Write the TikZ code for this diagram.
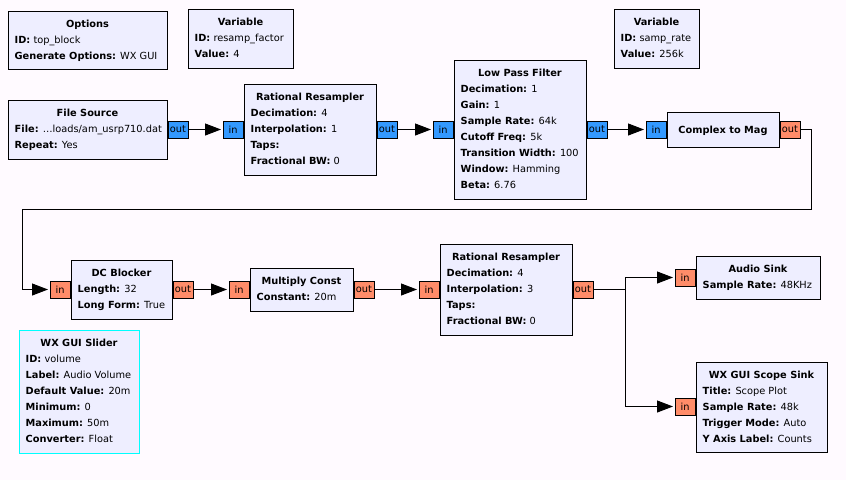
\documentclass[tikz,border=0pt]{standalone}
\usepackage{fontspec}
\setmainfont{DejaVu Sans}
\usetikzlibrary{arrows.meta,fit}
\definecolor{bg}{RGB}{255,250,255}
\definecolor{blockfill}{RGB}{238,238,255}
\definecolor{cplx}{RGB}{51,153,255}
\definecolor{flt}{RGB}{255,140,105}
\definecolor{slid}{RGB}{0,255,255}
\tikzset{
 block/.style={draw=black, fill=blockfill, line width=1pt, inner sep=0pt},
 sliderblock/.style={block, draw=slid},
 titletext/.style={font=\fontsize{9.8}{12}\selectfont\bfseries, inner sep=0pt, anchor=mid},
 bodytext/.style={font=\fontsize{9.8}{12}\selectfont, inner sep=0pt, anchor=mid west},
 port/.style={draw=black, line width=1pt, minimum width=20pt, minimum height=17pt, inner sep=0pt, font=\fontsize{9.8}{12}\selectfont},
 cport/.style={port, fill=cplx},
 fport/.style={port, fill=flt},
 conn/.style={draw, line width=1pt, -{Triangle[length=16pt,width=12pt]}, shorten >=1.5pt},
}
% #1 style, #2 name, #3 nw corner, #4 se corner, #5 title, #6 lines
\newcommand\grcblk[6]{%
  \node[#1, fit={#3 #4}] (#2) {};
  \path (#2.north) ++(0,14.2) node[titletext] (#2-t) {#5};
  \foreach \txt [count=\i] in {#6} {
    \path (#2.north west) ++(7,{14.2+16*\i}) node[bodytext] (#2-\i) {\txt};
  }
}
% #1 block, #2 y, #3 style
\newcommand\inport[3]{\node[#3, anchor=east] (#1-in) at (#1.west |- 0,#2) {in};}
\newcommand\outport[3]{\node[#3, anchor=west] (#1-out) at (#1.east |- 0,#2) {out};}
\begin{document}
\begin{tikzpicture}[x=1pt,y=-1pt]
\useasboundingbox (0,0) rectangle (846,480);
\fill[bg] (0,0) rectangle (846,480);

\grcblk{block}{opt}{(8,11)}{(167,69)}{Options}{\textbf{ID:} top\_block, \textbf{Generate Options:} WX GUI}
\grcblk{block}{var1}{(188,9)}{(293,68)}{Variable}{\textbf{ID:} resamp\_factor, \textbf{Value:} 4}
\grcblk{block}{var2}{(614,9)}{(699,68)}{Variable}{\textbf{ID:} samp\_rate, \textbf{Value:} 256k}
\grcblk{block}{fs}{(8,100)}{(167,159)}{File Source}{\textbf{File:} \ldots loads/am\_usrp710.dat, \textbf{Repeat:} Yes}
\grcblk{block}{rr1}{(244,84)}{(376,175)}{Rational Resampler}{\textbf{Decimation:} 4, \textbf{Interpolation:} 1, \textbf{Taps:}, \textbf{Fractional BW:} 0}
\grcblk{block}{lpf}{(454,60)}{(586,199)}{Low Pass Filter}{\textbf{Decimation:} 1, \textbf{Gain:} 1, \textbf{Sample Rate:} 64k, \textbf{Cutoff Freq:} 5k, \textbf{Transition Width:} 100, \textbf{Window:} Hamming, \textbf{Beta:} 6.76}
\node[block, fit={(667,112) (779,147)}] (ctm) {};
\node[titletext] (ctm-t) at ([yshift=-1pt]ctm.center) {Complex to Mag};
\grcblk{block}{dc}{(71,260)}{(172,319)}{DC Blocker}{\textbf{Length:} 32, \textbf{Long Form:} True}
\grcblk{block}{mc}{(250,268)}{(353,311)}{Multiply Const}{\textbf{Constant:} 20m}
\grcblk{block}{rr2}{(440,244)}{(572,335)}{Rational Resampler}{\textbf{Decimation:} 4, \textbf{Interpolation:} 3, \textbf{Taps:}, \textbf{Fractional BW:} 0}
\grcblk{block}{as}{(696,256)}{(820,299)}{Audio Sink}{\textbf{Sample Rate:} 48KHz}
\grcblk{block}{ss}{(696,362)}{(827,452)}{WX GUI Scope Sink}{\textbf{Title:} Scope Plot, \textbf{Sample Rate:} 48k, \textbf{Trigger Mode:} Auto, \textbf{Y Axis Label:} Counts}
\grcblk{sliderblock}{sl}{(19,330)}{(139,453)}{WX GUI Slider}{\textbf{ID:} volume, \textbf{Label:} Audio Volume, \textbf{Default Value:} 20m, \textbf{Minimum:} 0, \textbf{Maximum:} 50m, \textbf{Converter:} Float}

% ports
\outport{fs}{129.5}{cport}
\inport{rr1}{129.5}{cport}
\outport{rr1}{129.5}{cport}
\inport{lpf}{129.5}{cport}
\outport{lpf}{129.5}{cport}
\inport{ctm}{129.5}{cport}
\outport{ctm}{129.5}{fport}
\inport{dc}{289.5}{fport}
\outport{dc}{289.5}{fport}
\inport{mc}{289.5}{fport}
\outport{mc}{289.5}{fport}
\inport{rr2}{289.5}{fport}
\outport{rr2}{289.5}{fport}
\inport{as}{277.5}{fport}
\inport{ss}{406.5}{fport}

% connections
\coordinate (c1) at (811,209);
\coordinate (c2) at (22,209);
\coordinate (br) at (625,289.5);
\draw[conn] (fs-out.east) -- (rr1-in.west);
\draw[conn] (rr1-out.east) -- (lpf-in.west);
\draw[conn] (lpf-out.east) -- (ctm-in.west);
\draw[conn] (ctm-out.east) -| (c1) -- (c2) |- (dc-in.west);
\draw[conn] (dc-out.east) -- (mc-in.west);
\draw[conn] (mc-out.east) -- (rr2-in.west);
\draw[conn] (rr2-out.east) -- (br) |- (as-in.west);
\draw[conn] (rr2-out.east) -- (br) |- (ss-in.west);
\end{tikzpicture}
\end{document}
